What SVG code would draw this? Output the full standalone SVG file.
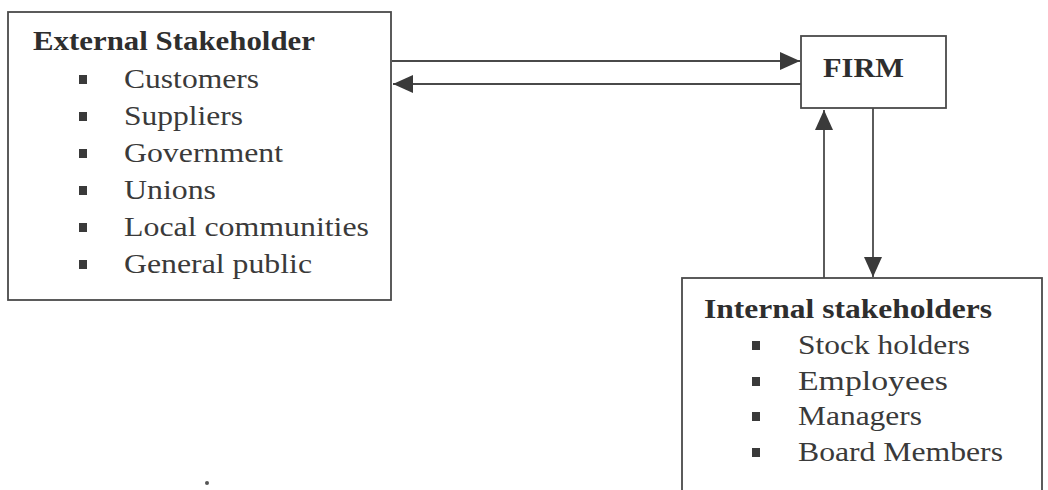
<svg xmlns="http://www.w3.org/2000/svg" width="1048" height="490" viewBox="0 0 1048 490">
<style>
.box{fill:#ffffff;stroke:#4a4a4a;stroke-width:1.8}
.h{font-family:"Liberation Serif","Times New Roman",serif;font-weight:bold;font-size:28px;fill:#2e2e2e}
.t{font-family:"Liberation Serif","Times New Roman",serif;font-size:28px;fill:#3a3a3a}
.b{fill:#3a3a3a}
.c{stroke:#4a4a4a;stroke-width:1.8;fill:none}
</style>
<defs>
<marker id="ah" markerUnits="userSpaceOnUse" markerWidth="22" markerHeight="20" refX="20" refY="10" orient="auto">
<path d="M0,1 L20,10 L0,19 Z" fill="#3a3a3a"/>
</marker>
</defs>
<rect width="1048" height="490" fill="#ffffff"/>
<g id="external">
<rect class="box" x="8" y="12" width="383" height="288"/>
<text class="h" x="33" y="50" textLength="282" lengthAdjust="spacingAndGlyphs">External Stakeholder</text>
<rect class="b" x="79" y="75" width="8" height="9"/>
<text class="t" x="124" y="88" textLength="135" lengthAdjust="spacingAndGlyphs">Customers</text>
<rect class="b" x="79" y="112" width="8" height="9"/>
<text class="t" x="124" y="125" textLength="119" lengthAdjust="spacingAndGlyphs">Suppliers</text>
<rect class="b" x="79" y="149" width="8" height="9"/>
<text class="t" x="124" y="162" textLength="159" lengthAdjust="spacingAndGlyphs">Government</text>
<rect class="b" x="79" y="186" width="8" height="9"/>
<text class="t" x="124" y="199" textLength="92" lengthAdjust="spacingAndGlyphs">Unions</text>
<rect class="b" x="79" y="223" width="8" height="9"/>
<text class="t" x="124" y="236" textLength="245" lengthAdjust="spacingAndGlyphs">Local communities</text>
<rect class="b" x="79" y="260" width="8" height="9"/>
<text class="t" x="124" y="273" textLength="188" lengthAdjust="spacingAndGlyphs">General public</text>
</g>
<g id="firm">
<rect class="box" x="801" y="36" width="145" height="72"/>
<text class="h" x="823" y="77" textLength="81" lengthAdjust="spacingAndGlyphs">FIRM</text>
</g>
<g id="internal">
<rect class="box" x="682" y="278" width="360" height="220"/>
<text class="h" x="704" y="318" textLength="288" lengthAdjust="spacingAndGlyphs">Internal stakeholders</text>
<rect class="b" x="752" y="341" width="8" height="9"/>
<text class="t" x="798" y="354" textLength="172" lengthAdjust="spacingAndGlyphs">Stock holders</text>
<rect class="b" x="752" y="377" width="8" height="9"/>
<text class="t" x="798" y="390" textLength="150" lengthAdjust="spacingAndGlyphs">Employees</text>
<rect class="b" x="752" y="412" width="8" height="9"/>
<text class="t" x="798" y="425" textLength="124" lengthAdjust="spacingAndGlyphs">Managers</text>
<rect class="b" x="752" y="448" width="8" height="9"/>
<text class="t" x="798" y="461" textLength="205" lengthAdjust="spacingAndGlyphs">Board Members</text>
</g>
<g id="connectors">
<line class="c" x1="392" y1="61" x2="800" y2="61" marker-end="url(#ah)"/>
<line class="c" x1="801" y1="84" x2="393" y2="84" marker-end="url(#ah)"/>
<line class="c" x1="824" y1="278" x2="824" y2="110" marker-end="url(#ah)"/>
<line class="c" x1="873" y1="108" x2="873" y2="277" marker-end="url(#ah)"/>
</g>
<circle cx="207" cy="483" r="2" fill="#555"/>
</svg>
